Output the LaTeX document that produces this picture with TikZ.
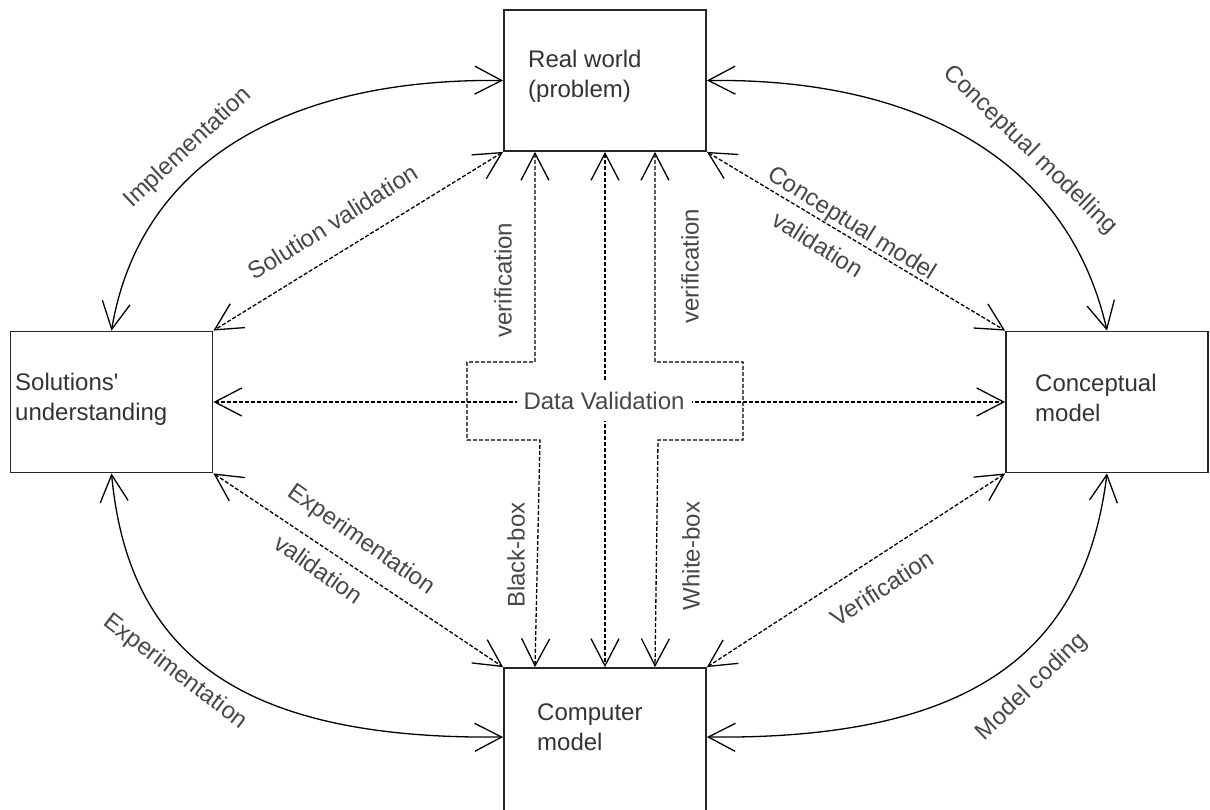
\documentclass[tikz,border=0pt]{standalone}
\usepackage{fontspec}
\setmainfont{Liberation Sans}[Ligatures=TeXOff]
\usetikzlibrary{arrows.meta}
\begin{document}
\begin{tikzpicture}[x=1pt,y=-1pt,
  >={Straight Barb[length=27pt,width=28pt]},
  box/.style={draw=black!85,line width=1.8pt,minimum width=202pt,minimum height=141pt,inner sep=0pt},
  boxtext/.style={text=black!80,font=\fontsize{24}{30}\selectfont,align=left,inner sep=0pt},
  lab/.style={text=black!72,font=\fontsize{24}{30}\selectfont,inner sep=0pt},
  conn/.style={line width=1.3pt,<->},
  dconn/.style={line width=1.3pt,dash pattern=on 4pt off 2pt,<->},
]
\useasboundingbox (0,0) rectangle (1210,810);
% boxes
\node[box] (rw) at (605,80.5) {};
\node[box] (su) at (111.5,402) {};
\node[box] (cm) at (1107,402) {};
\node[box,minimum height=150pt] (cp) at (605,743) {};
% box texts (anchored at the baseline of the last line)
\node[boxtext,anchor=base west] (rwt) at (528,97.5) {Real world\\(problem)};
\node[boxtext,anchor=base west] (sut) at (15,420) {Solutions'\\understanding};
\node[boxtext,anchor=base west] (cmt) at (1035,421) {Conceptual\\model};
\node[boxtext,anchor=base west] (cpt) at (537,750) {Computer\\model};
% solid curved connectors
\draw[conn] (rw.west) .. controls (290,78) and (140,160) .. (su.north);
\draw[conn] (rw.east) .. controls (918,78) and (1068,160) .. (cm.north);
\draw[conn] (su.south) .. controls (128,650) and (235,740) .. ([yshift=6pt]cp.west);
\draw[conn] (cm.south) .. controls (1085,650) and (975,740) .. ([yshift=6pt]cp.east);
% dashed diagonals
\draw[dconn] (rw.south west) -- (su.north east);
\draw[dconn] (rw.south east) -- (cm.north west);
\draw[dconn] (su.south east) -- (cp.north west);
\draw[dconn] (cm.south west) -- (cp.north east);
% central dashed connectors
\draw[dconn] (su.east) -- (cm.west);
\draw[dconn] (rw.south) -- (cp.north);
\coordinate (a1) at (535,362);
\coordinate (a2) at (467,362);
\coordinate (a3) at (467,440);
\coordinate (a4) at (540,440);
\coordinate (b1) at (655,362);
\coordinate (b2) at (743,362);
\coordinate (b3) at (743,440);
\coordinate (b4) at (658,440);
\draw[dconn] ([xshift=-70pt]rw.south) -- (a1) -- (a2) -- (a3) -- (a4) -- ([xshift=-70pt]cp.north);
\draw[dconn] ([xshift=50pt]rw.south) -- (b1) -- (b2) -- (b3) -- (b4) -- ([xshift=50pt]cp.north);
\node[lab,fill=white,inner xsep=7pt,inner ysep=11pt] (dv) at (604,401) {Data Validation};
% labels
\node[lab,rotate=43] (l1) at (188,148) {Implementation};
\node[lab,rotate=32] (l2) at (333,222) {Solution validation};
\node[lab,rotate=90] (l3) at (503,280) {verification};
\node[lab,rotate=90] (l4) at (690,266) {verification};
\node[lab,rotate=90] (l5) at (516,555) {Black-box};
\node[lab,rotate=90] (l6) at (691,556) {White-box};
\node[lab,rotate=-44] (l7) at (1030,150) {Conceptual modelling};
\node[lab,rotate=-32,align=left,font=\fontsize{24}{37}\selectfont] (l8) at (843,238) {Conceptual model\\\hspace*{28pt}validation};
\node[lab,rotate=-35,align=left,font=\fontsize{24}{50}\selectfont] (l9) at (348,559) {Experimentation\\\hspace*{18pt}validation};
\node[lab,rotate=-37] (l10) at (175,672) {Experimentation};
\node[lab,rotate=33] (l11) at (882,588) {Verification};
\node[lab,rotate=44] (l12) at (1032,687) {Model coding};
\end{tikzpicture}
\end{document}
